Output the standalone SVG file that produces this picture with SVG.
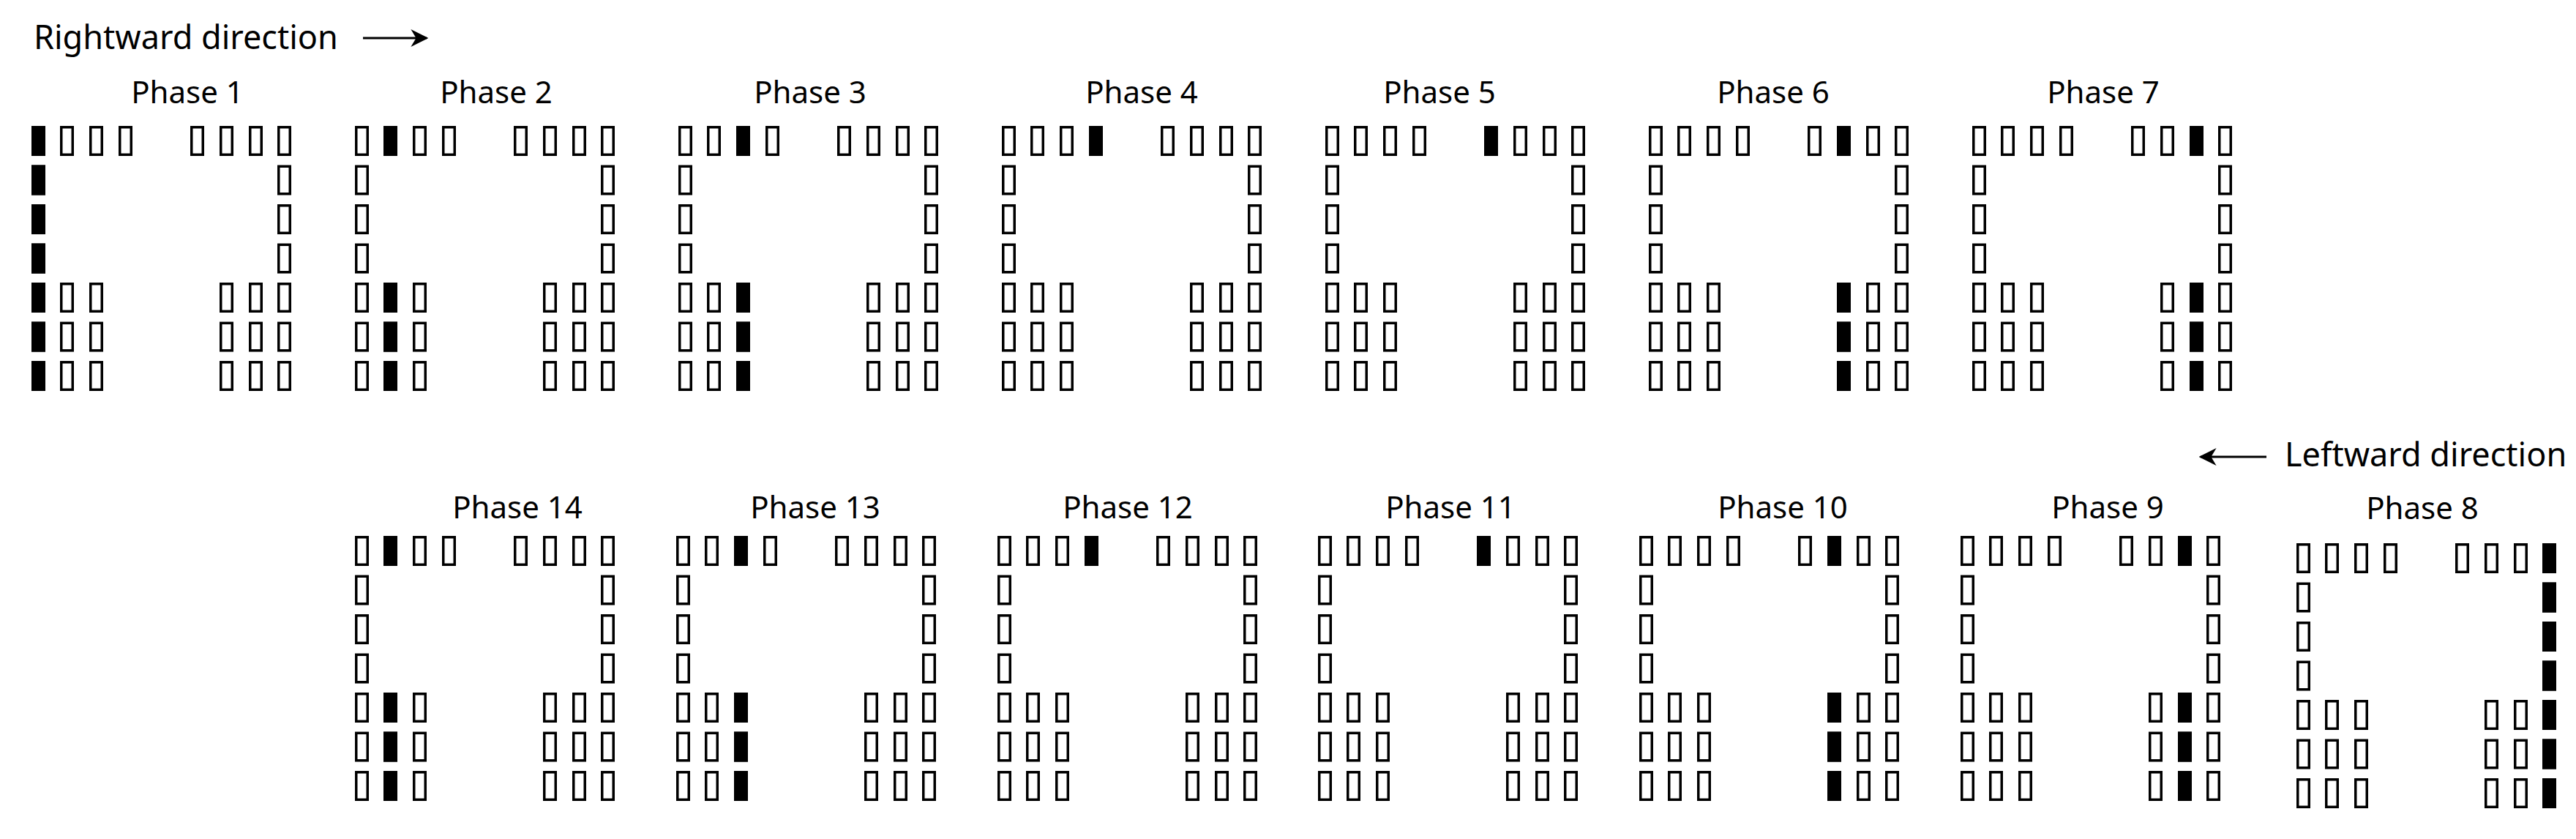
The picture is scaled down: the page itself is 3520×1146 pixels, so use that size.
<svg xmlns="http://www.w3.org/2000/svg" xmlns:xlink="http://www.w3.org/1999/xlink" width="3520" height="1146" viewBox="0 0 3520 1146">
<style>
.c{fill:#fff;stroke:#000;stroke-width:3.5}
.f{fill:#000}
text{font-family:"Noto Sans","Liberation Sans",sans-serif;fill:#000}
.lb{font-size:42px;text-anchor:middle}
.dir{font-size:45px}
</style>
<defs>
<g id="grid">
<rect class="c" x="1.75" y="1.75" width="15.5" height="37.5"/><rect class="c" x="40.75" y="1.75" width="15.5" height="37.5"/><rect class="c" x="80.75" y="1.75" width="15.5" height="37.5"/><rect class="c" x="120.75" y="1.75" width="15.5" height="37.5"/>
<rect class="c" x="218.75" y="1.75" width="15.5" height="37.5"/><rect class="c" x="258.75" y="1.75" width="15.5" height="37.5"/><rect class="c" x="298.75" y="1.75" width="15.5" height="37.5"/><rect class="c" x="337.75" y="1.75" width="15.5" height="37.5"/>
<rect class="c" x="1.75" y="55.25" width="15.5" height="37.5"/><rect class="c" x="337.75" y="55.25" width="15.5" height="37.5"/>
<rect class="c" x="1.75" y="108.75" width="15.5" height="37.5"/><rect class="c" x="337.75" y="108.75" width="15.5" height="37.5"/>
<rect class="c" x="1.75" y="162.25" width="15.5" height="37.5"/><rect class="c" x="337.75" y="162.25" width="15.5" height="37.5"/>
<rect class="c" x="1.75" y="215.75" width="15.5" height="37.5"/><rect class="c" x="40.75" y="215.75" width="15.5" height="37.5"/><rect class="c" x="80.75" y="215.75" width="15.5" height="37.5"/><rect class="c" x="258.75" y="215.75" width="15.5" height="37.5"/><rect class="c" x="298.75" y="215.75" width="15.5" height="37.5"/><rect class="c" x="337.75" y="215.75" width="15.5" height="37.5"/>
<rect class="c" x="1.75" y="269.25" width="15.5" height="37.5"/><rect class="c" x="40.75" y="269.25" width="15.5" height="37.5"/><rect class="c" x="80.75" y="269.25" width="15.5" height="37.5"/><rect class="c" x="258.75" y="269.25" width="15.5" height="37.5"/><rect class="c" x="298.75" y="269.25" width="15.5" height="37.5"/><rect class="c" x="337.75" y="269.25" width="15.5" height="37.5"/>
<rect class="c" x="1.75" y="322.75" width="15.5" height="37.5"/><rect class="c" x="40.75" y="322.75" width="15.5" height="37.5"/><rect class="c" x="80.75" y="322.75" width="15.5" height="37.5"/><rect class="c" x="258.75" y="322.75" width="15.5" height="37.5"/><rect class="c" x="298.75" y="322.75" width="15.5" height="37.5"/><rect class="c" x="337.75" y="322.75" width="15.5" height="37.5"/>
</g>
<g id="bc0"><rect class="f" x="0" y="214" width="19" height="41"/><rect class="f" x="0" y="267.5" width="19" height="41"/><rect class="f" x="0" y="321" width="19" height="41"/></g>
<g id="bc1"><rect class="f" x="39" y="214" width="19" height="41"/><rect class="f" x="39" y="267.5" width="19" height="41"/><rect class="f" x="39" y="321" width="19" height="41"/></g>
<g id="bc2"><rect class="f" x="79" y="214" width="19" height="41"/><rect class="f" x="79" y="267.5" width="19" height="41"/><rect class="f" x="79" y="321" width="19" height="41"/></g>
<g id="bc5"><rect class="f" x="257" y="214" width="19" height="41"/><rect class="f" x="257" y="267.5" width="19" height="41"/><rect class="f" x="257" y="321" width="19" height="41"/></g>
<g id="bc6"><rect class="f" x="297" y="214" width="19" height="41"/><rect class="f" x="297" y="267.5" width="19" height="41"/><rect class="f" x="297" y="321" width="19" height="41"/></g>
<g id="bc7"><rect class="f" x="336" y="214" width="19" height="41"/><rect class="f" x="336" y="267.5" width="19" height="41"/><rect class="f" x="336" y="321" width="19" height="41"/></g>
<g id="ml"><rect class="f" x="0" y="53.5" width="19" height="41"/><rect class="f" x="0" y="107" width="19" height="41"/><rect class="f" x="0" y="160.5" width="19" height="41"/></g>
<g id="mr"><rect class="f" x="336" y="53.5" width="19" height="41"/><rect class="f" x="336" y="107" width="19" height="41"/><rect class="f" x="336" y="160.5" width="19" height="41"/></g>
<marker id="ah" viewBox="0 0 10 10" refX="9" refY="5" markerWidth="24" markerHeight="24" markerUnits="userSpaceOnUse" orient="auto"><path d="M0,0 L10,5 L0,10 L3,5 Z" fill="#000"/></marker>
</defs>

<g id="connectors">
<line x1="496" y1="52" x2="583" y2="52" stroke="#000" stroke-width="3" marker-end="url(#ah)"/>
<line x1="3097" y1="624" x2="3007" y2="624" stroke="#000" stroke-width="3" marker-end="url(#ah)"/>
</g>
<text class="dir" x="46" y="67">Rightward direction</text>
<text class="dir" x="3122" y="637">Leftward direction</text>

<g id="phase1" transform="translate(43,172)"><use href="#grid"/><rect class="f" x="0" y="0" width="19" height="41"/><use href="#ml"/><use href="#bc0"/></g>
<g id="phase2" transform="translate(485,172)"><use href="#grid"/><rect class="f" x="39" y="0" width="19" height="41"/><use href="#bc1"/></g>
<g id="phase3" transform="translate(927,172)"><use href="#grid"/><rect class="f" x="79" y="0" width="19" height="41"/><use href="#bc2"/></g>
<g id="phase4" transform="translate(1369,172)"><use href="#grid"/><rect class="f" x="119" y="0" width="19" height="41"/></g>
<g id="phase5" transform="translate(1811,172)"><use href="#grid"/><rect class="f" x="217" y="0" width="19" height="41"/></g>
<g id="phase6" transform="translate(2253,172)"><use href="#grid"/><rect class="f" x="257" y="0" width="19" height="41"/><use href="#bc5"/></g>
<g id="phase7" transform="translate(2695,172)"><use href="#grid"/><rect class="f" x="297" y="0" width="19" height="41"/><use href="#bc6"/></g>

<g id="phase14" transform="translate(485,732)"><use href="#grid"/><rect class="f" x="39" y="0" width="19" height="41"/><use href="#bc1"/></g>
<g id="phase13" transform="translate(924,732)"><use href="#grid"/><rect class="f" x="79" y="0" width="19" height="41"/><use href="#bc2"/></g>
<g id="phase12" transform="translate(1363,732)"><use href="#grid"/><rect class="f" x="119" y="0" width="19" height="41"/></g>
<g id="phase11" transform="translate(1801,732)"><use href="#grid"/><rect class="f" x="217" y="0" width="19" height="41"/></g>
<g id="phase10" transform="translate(2240,732)"><use href="#grid"/><rect class="f" x="257" y="0" width="19" height="41"/><use href="#bc5"/></g>
<g id="phase9" transform="translate(2679,732)"><use href="#grid"/><rect class="f" x="297" y="0" width="19" height="41"/><use href="#bc6"/></g>
<g id="phase8" transform="translate(3138,742)"><use href="#grid"/><rect class="f" x="336" y="0" width="19" height="41"/><use href="#mr"/><use href="#bc7"/></g>

<g id="labels">
<text class="lb" x="256" y="141">Phase 1</text>
<text class="lb" x="678" y="141">Phase 2</text>
<text class="lb" x="1107" y="141">Phase 3</text>
<text class="lb" x="1560" y="141">Phase 4</text>
<text class="lb" x="1967" y="141">Phase 5</text>
<text class="lb" x="2423" y="141">Phase 6</text>
<text class="lb" x="2874" y="141">Phase 7</text>
<text class="lb" x="707" y="708">Phase 14</text>
<text class="lb" x="1114" y="708">Phase 13</text>
<text class="lb" x="1541" y="708">Phase 12</text>
<text class="lb" x="1982" y="708">Phase 11</text>
<text class="lb" x="2436" y="708">Phase 10</text>
<text class="lb" x="2880" y="708">Phase 9</text>
<text class="lb" x="3310" y="709">Phase 8</text>
</g>
</svg>
